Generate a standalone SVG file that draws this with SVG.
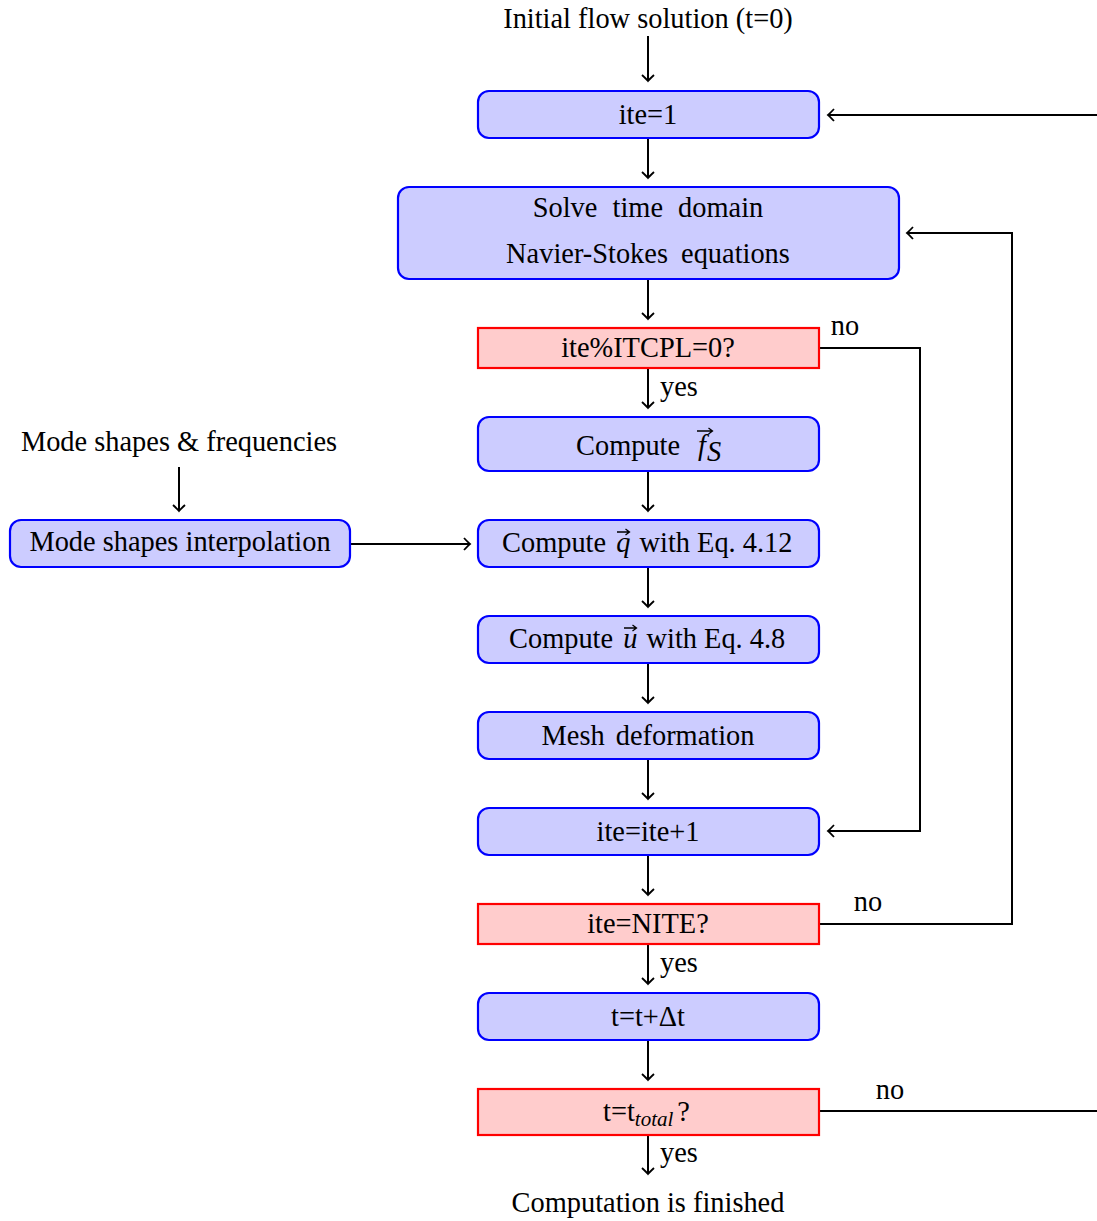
<svg xmlns="http://www.w3.org/2000/svg" width="1097" height="1221" viewBox="0 0 1097 1221">
<style>
text{font-family:"Liberation Serif","Times New Roman",serif;font-size:28.4px;fill:#000}
.c{text-anchor:middle}
.b{fill:#ccccff;stroke:#0000ff;stroke-width:2.2}
.r{fill:#ffcccc;stroke:#ff0000;stroke-width:2.2}
.ln{fill:none;stroke:#000;stroke-width:2}
.vec{fill:none;stroke:#000;stroke-width:1.3}
.i{font-style:italic}
</style>
<defs>
<marker id="to" markerUnits="userSpaceOnUse" viewBox="-8 -8 10 16" markerWidth="10" markerHeight="16" refX="0" refY="0" orient="auto">
<path d="M-6,-6 Q-1.5,-1.2 0,0 Q-1.5,1.2 -6,6" fill="none" stroke="#000" stroke-width="1.8"/>
</marker>
</defs>
<g id="connectors">
<line class="ln" x1="648" y1="36" x2="648" y2="81" marker-end="url(#to)"/>
<line class="ln" x1="648" y1="139" x2="648" y2="178" marker-end="url(#to)"/>
<line class="ln" x1="648" y1="280" x2="648" y2="319" marker-end="url(#to)"/>
<line class="ln" x1="648" y1="369" x2="648" y2="408" marker-end="url(#to)"/>
<line class="ln" x1="648" y1="472" x2="648" y2="511" marker-end="url(#to)"/>
<line class="ln" x1="648" y1="568" x2="648" y2="607" marker-end="url(#to)"/>
<line class="ln" x1="648" y1="664" x2="648" y2="703" marker-end="url(#to)"/>
<line class="ln" x1="648" y1="760" x2="648" y2="799" marker-end="url(#to)"/>
<line class="ln" x1="648" y1="856" x2="648" y2="895" marker-end="url(#to)"/>
<line class="ln" x1="648" y1="945" x2="648" y2="984" marker-end="url(#to)"/>
<line class="ln" x1="648" y1="1041" x2="648" y2="1080" marker-end="url(#to)"/>
<line class="ln" x1="648" y1="1136" x2="648" y2="1174" marker-end="url(#to)"/>
<line class="ln" x1="179" y1="467" x2="179" y2="511" marker-end="url(#to)"/>
<line class="ln" x1="351" y1="544" x2="470" y2="544" marker-end="url(#to)"/>
<path class="ln" d="M820,348 H920 V831 H828" marker-end="url(#to)"/>
<path class="ln" d="M820,924 H1012 V233 H907" marker-end="url(#to)"/>
<path class="ln" d="M820,1111 H1120 V115 H828" marker-end="url(#to)"/>
<text x="845" y="335" class="c">no</text>
<text x="868" y="911" class="c">no</text>
<text x="890" y="1099" class="c">no</text>
<text x="660" y="396">yes</text>
<text x="660" y="972">yes</text>
<text x="660" y="1162">yes</text>
</g>
<text id="start" x="648" y="28" class="c">Initial flow solution (t=0)</text>
<text id="modes" x="179" y="451" class="c">Mode shapes &amp; frequencies</text>
<text id="end" x="648" y="1212" class="c">Computation is finished</text>
<g id="n_ite1"><rect class="b" x="478" y="91" width="341" height="47" rx="11"/><text x="648" y="124" class="c">ite=1</text></g>
<g id="n_solve"><rect class="b" x="398" y="187" width="501" height="92" rx="11"/>
<text x="648" y="217" class="c" style="word-spacing:8px">Solve time domain</text>
<text x="648" y="263" class="c" style="word-spacing:6px">Navier-Stokes equations</text></g>
<g id="n_itcpl"><rect class="r" x="478" y="328" width="341" height="40"/><text x="648" y="357" class="c">ite%ITCPL=0?</text></g>
<g id="n_fs"><rect class="b" x="478" y="417" width="341" height="54" rx="11"/>
<text x="576" y="455">Compute</text>
<text x="698" y="455" class="i">f</text>
<text x="707" y="461" class="i" font-size="21">S</text>
<path class="vec" d="M697,431 H712 M708.5,428 L712.5,431 L708.5,434"/></g>
<g id="n_q"><rect class="b" x="478" y="520" width="341" height="47" rx="11"/>
<text x="502" y="552">Compute <tspan class="i" dx="3">q</tspan><tspan dx="2"> with Eq. 4.12</tspan></text>
<path class="vec" d="M617,532 H629 M625.5,529 L629.5,532 L625.5,535"/></g>
<g id="n_u"><rect class="b" x="478" y="616" width="341" height="47" rx="11"/>
<text x="509" y="648">Compute <tspan class="i" dx="3">u</tspan><tspan dx="2"> with Eq. 4.8</tspan></text>
<path class="vec" d="M624,628 H636 M632.5,625 L636.5,628 L632.5,631"/></g>
<g id="n_mesh"><rect class="b" x="478" y="712" width="341" height="47" rx="11"/><text x="648" y="745" class="c" style="word-spacing:4px">Mesh deformation</text></g>
<g id="n_iteinc"><rect class="b" x="478" y="808" width="341" height="47" rx="11"/><text x="648" y="841" class="c">ite=ite+1</text></g>
<g id="n_nite"><rect class="r" x="478" y="904" width="341" height="40"/><text x="648" y="933" class="c">ite=NITE?</text></g>
<g id="n_dt"><rect class="b" x="478" y="993" width="341" height="47" rx="11"/><text x="648" y="1026" class="c">t=t+Δt</text></g>
<g id="n_total"><rect class="r" x="478" y="1089" width="341" height="46"/>
<text x="603" y="1121">t=t<tspan class="i" font-size="21" dy="5">total</tspan><tspan dy="-5" dx="4">?</tspan></text></g>
<g id="n_interp"><rect class="b" x="10" y="520" width="340" height="47" rx="11"/><text x="180" y="551" class="c">Mode shapes interpolation</text></g>
</svg>
